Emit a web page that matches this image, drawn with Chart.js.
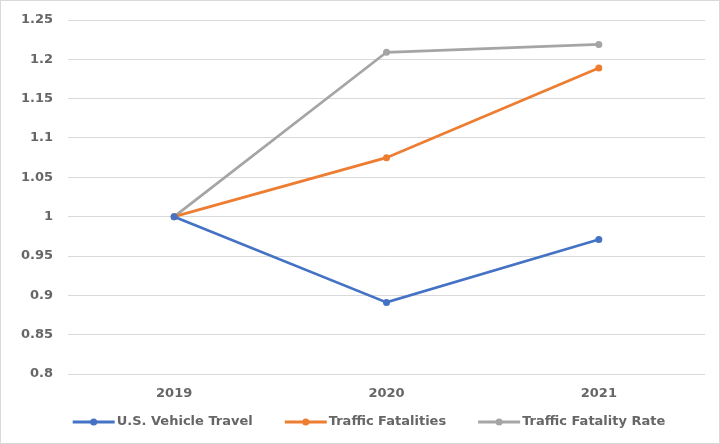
<!DOCTYPE html>
<html>
<head>
<meta charset="utf-8">
<script src="https://cdn.jsdelivr.net/npm/chart.js@4"></script>
<style>
  html, body { margin: 0; padding: 0; background: #fff; }
  #wrap { position: relative; width: 718px; height: 442px; border: 1px solid #d9d9d9; }
  canvas { display: block; }
</style>
</head>
<body>
<div id="wrap"><canvas id="c" width="718" height="442"></canvas></div>
<script>
const categories = ['2019', '2020', '2021'];
const vehicleTravel = [1, 0.891, 0.971];
const trafficFatalities = [1, 1.075, 1.189];
const fatalityRate = [1, 1.209, 1.219];
const seriesNames = ['U.S. Vehicle Travel', 'Traffic Fatalities', 'Traffic Fatality Rate'];
const seriesColors = ['#4472C4', '#ED7D31', '#A5A5A5'];
const yTicks = [0.8, 0.85, 0.9, 0.95, 1, 1.05, 1.1, 1.15, 1.2, 1.25];

const FONT = "'DejaVu Sans', Verdana, sans-serif";
const TEXT_COLOR = '#666666';
const seriesValues = [vehicleTravel, trafficFatalities, fatalityRate];

const customLegend = {
  id: 'customLegend',
  afterDraw(chart) {
    const ctx = chart.ctx;
    ctx.save();
    ctx.font = 'bold 13px ' + FONT;
    const lineLen = 42, textGap = 2, itemGap = 32;
    const widths = seriesNames.map(n => ctx.measureText(n).width);
    const total = widths.reduce((a, w) => a + lineLen + textGap + w, 0) + itemGap * (seriesNames.length - 1);
    let x = chart.width / 2 + 9 - total / 2;
    const y = 421;
    seriesNames.forEach((name, i) => {
      ctx.strokeStyle = seriesColors[i];
      ctx.lineWidth = 3;
      ctx.beginPath();
      ctx.moveTo(x, y);
      ctx.lineTo(x + lineLen, y);
      ctx.stroke();
      ctx.fillStyle = seriesColors[i];
      ctx.beginPath();
      ctx.arc(x + lineLen / 2, y, 3.5, 0, Math.PI * 2);
      ctx.fill();
      ctx.fillStyle = TEXT_COLOR;
      ctx.textAlign = 'left';
      ctx.textBaseline = 'middle';
      ctx.fillText(name, x + lineLen + textGap, y);
      x += lineLen + textGap + widths[i] + itemGap;
    });
    ctx.restore();
  }
};

new Chart(document.getElementById('c'), {
  type: 'line',
  data: {
    labels: categories,
    datasets: seriesValues.map((vals, i) => ({
      label: seriesNames[i],
      data: vals,
      borderColor: seriesColors[i],
      backgroundColor: seriesColors[i],
      borderWidth: 2.75,
      pointRadius: 3.5,
      pointBorderWidth: 0,
      pointBackgroundColor: seriesColors[i],
      tension: 0
    }))
  },
  options: {
    responsive: false,
    animation: false,
    layout: { padding: { left: 8, right: 14, top: 19, bottom: 0 } },
    plugins: {
      tooltip: { enabled: false },
      legend: { display: false }
    },
    scales: {
      x: {
        offset: true,
        grid: { display: false },
        border: { display: false },
        afterFit(scale) { scale.height = 69; },
        ticks: { font: { family: FONT, size: 13, weight: 'bold' }, color: TEXT_COLOR, padding: 4 }
      },
      y: {
        min: 0.8,
        max: 1.25,
        afterBuildTicks(scale) { scale.ticks = yTicks.map(v => ({ value: v })); },
        afterFit(scale) { scale.width = 59; scale.paddingTop = 0; scale.paddingBottom = 0; },
        grid: { color: '#d9d9d9', lineWidth: 1, drawTicks: false },
        border: { display: false },
        ticks: {
          font: { family: FONT, size: 13, weight: 'bold' },
          color: TEXT_COLOR,
          padding: 15,
          callback: v => String(Math.round(v * 100) / 100)
        }
      }
    }
  },
  plugins: [customLegend]
});
</script>
</body>
</html>
